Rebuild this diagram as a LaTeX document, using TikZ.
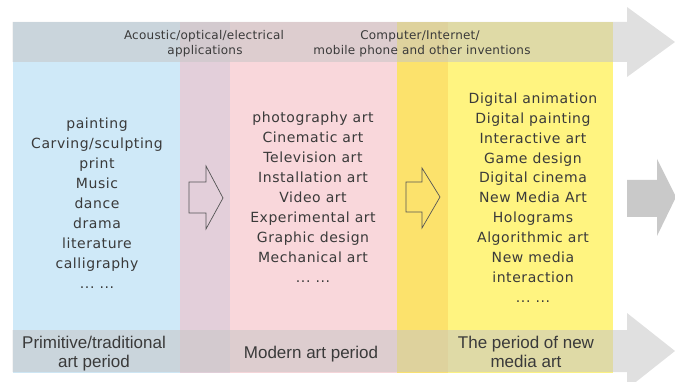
\documentclass[tikz,border=0pt]{standalone}
\usepackage{fontspec}
\setmainfont{DejaVu Sans}
\newfontfamily\bodyfont[LetterSpace=4]{DejaVu Sans}
\newfontfamily\topfont[LetterSpace=2]{DejaVu Sans}
\newfontfamily\labfont{Liberation Sans}
\newcommand\myell{.\kern0.6pt.\kern0.6pt.\ .\kern0.6pt.\kern0.6pt.}
\definecolor{cblue}{HTML}{CFE9F8}
\definecolor{cmauve}{HTML}{E3CFDA}
\definecolor{cpink}{HTML}{F9D7DB}
\definecolor{cdyel}{HTML}{FCE26C}
\definecolor{cyel}{HTML}{FFF480}
\definecolor{bandgray}{HTML}{C6C6C6}
\definecolor{midgray}{HTML}{C9C9C9}
\definecolor{txt}{HTML}{3A3A3A}
\definecolor{outl}{HTML}{555555}
\tikzset{
  band/.style={fill=bandgray, fill opacity=0.55, draw=none},
  hollow/.style={draw=outl, line width=0.7pt, line join=miter, fill=none},
  bodytxt/.style={font=\bodyfont\fontsize{14}{20}\selectfont, text=txt, anchor=base, inner sep=0pt},
  toptxt/.style={font=\topfont\fontsize{12}{15}\selectfont, text=txt, anchor=base, inner sep=0pt},
  labtxt/.style={font=\labfont\fontsize{17}{19.5}\selectfont, text=txt, anchor=base, inner sep=0pt}
}
\begin{document}
\begin{tikzpicture}[x=1pt,y=-1pt]
\useasboundingbox (0,0) rectangle (675,382);
% columns
\fill[cblue]  (12.5,22) rectangle (180,373);
\fill[cmauve] (180,22) rectangle (230,373);
\fill[cpink]  (230,22) rectangle (397,373);
\fill[cdyel]  (397,22) rectangle (448,373);
\fill[cyel]   (448,22) rectangle (613,373);
% top and bottom band arrows
\fill[band] (12.5,22) -- (627,22) -- (627,7) -- (675,42) -- (627,77) -- (627,62) -- (12.5,62) -- cycle;
\fill[band] (12.5,330) -- (627,330) -- (627,313) -- (675,351) -- (627,389) -- (627,372) -- (12.5,372) -- cycle;
% middle gray arrow
\fill[midgray] (627,180) -- (657,180) -- (657,159) -- (676,197) -- (657,236) -- (657,217) -- (627,217) -- cycle;
% hollow arrows
\draw[hollow] (189,182) -- (206,182) -- (206,166) -- (223,198) -- (206,229) -- (206,213) -- (189,213) -- cycle;
\draw[hollow] (406,182) -- (422,182) -- (422,168) -- (440,197) -- (422,228) -- (422,212) -- (406,212) -- cycle;
% top texts
\node[toptxt] (t1) at (204,40) {Acoustic/optical/electrical};
\node[toptxt] (t2) at (205,54.5) {applications};
\node[toptxt] (t3) at (420,40) {Computer/Internet/};
\node[toptxt] (t4) at (422,54.5) {mobile phone and other inventions};
% column texts
\foreach \t [count=\i] in {painting,Carving/sculpting,print,Music,dance,drama,literature,calligraphy,\myell}
  \node[bodytxt, name=a\i] at (97,{128.5+20*(\i-1)}) {\t};
\foreach \t [count=\i] in {photography art,Cinematic art,Television art,Installation art,Video art,Experimental art,Graphic design,Mechanical art,\myell}
  \node[bodytxt, name=b\i] at (313,{122.5+20*(\i-1)}) {\t};
\foreach \t [count=\i] in {Digital animation,Digital painting,Interactive art,Game design,Digital cinema,New Media Art,Holograms,Algorithmic art,New media,interaction,\myell}
  \node[bodytxt, name=c\i] at (533,{103.5+19.85*(\i-1)}) {\t};
% bottom labels
\node[labtxt] (p1) at (94,348) {Primitive/traditional};
\node[labtxt] (p2) at (94,367.5) {art period};
\node[labtxt] (p3) at (311,358) {Modern art period};
\node[labtxt] (p4) at (526,348) {The period of new};
\node[labtxt] (p5) at (526,367.5) {media art};
\end{tikzpicture}
\end{document}
